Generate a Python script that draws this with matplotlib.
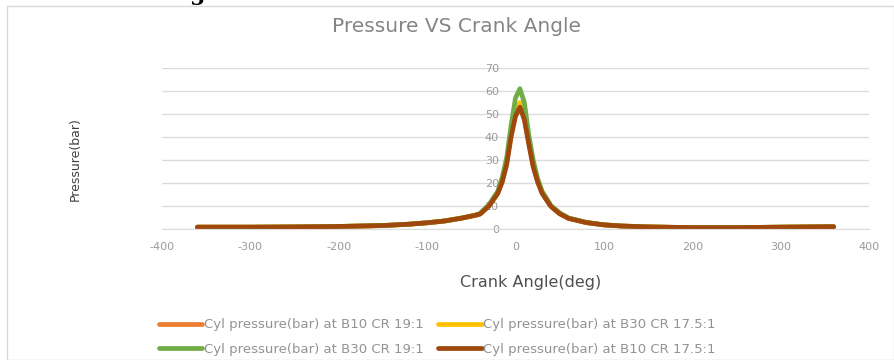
import matplotlib
matplotlib.use('Agg')
import matplotlib.pyplot as plt
from matplotlib.patches import Rectangle

plt.rcParams['font.family'] = ['DejaVu Sans']

# crank angle (deg) and cylinder pressure (bar) for each fuel / compression ratio
crank_angle = [-360, -300, -250, -200, -150, -120, -100, -80, -60, -45, -40, -30,
               -20, -15, -10, -5, 0, 5, 10, 15, 20, 25, 30, 40, 50, 60, 80, 100,
               120, 150, 200, 250, 300, 360]
p_b10_cr19 = [0.8, 0.8, 0.9, 1.1, 1.5, 2.1, 2.7, 3.5, 4.8, 6.0, 6.6, 10.2,
              15.8, 21, 29, 42, 51, 54, 48.5, 38, 28, 21, 16, 10, 6.8, 4.7, 2.8, 1.8,
              1.3, 0.9, 0.6, 0.6, 0.8, 1.0]
p_b30_cr175 = [0.8, 0.8, 0.9, 1.1, 1.5, 2.1, 2.7, 3.5, 4.8, 6.0, 6.6, 10.2,
               15.8, 21, 29, 42, 51.5, 55, 49, 38, 28, 21, 16, 10, 6.8, 4.7, 2.8, 1.8,
               1.3, 0.9, 0.6, 0.6, 0.8, 1.0]
p_b30_cr19 = [0.8, 0.8, 0.9, 1.1, 1.5, 2.1, 2.7, 3.5, 4.8, 6.1, 6.8, 10.6,
              16.5, 22.5, 31, 45, 57, 61, 55, 41, 30, 22, 16.5, 10.2, 7.0, 4.8, 2.9, 1.8,
              1.3, 0.9, 0.6, 0.6, 0.8, 1.0]
p_b10_cr175 = [0.8, 0.8, 0.9, 1.1, 1.5, 2.1, 2.7, 3.5, 4.8, 6.0, 6.5, 10.0,
               15.5, 20.5, 28, 40, 49, 53, 47.5, 37, 27, 20.5, 15.5, 9.8, 6.6, 4.6, 2.8, 1.8,
               1.3, 0.9, 0.6, 0.6, 0.8, 1.0]

series = [
    (p_b10_cr19, 'Cyl pressure(bar) at B10 CR 19:1', '#ED7D31'),
    (p_b30_cr175, 'Cyl pressure(bar) at B30 CR 17.5:1', '#FFC000'),
    (p_b30_cr19, 'Cyl pressure(bar) at B30 CR 19:1', '#70AD47'),
    (p_b10_cr175, 'Cyl pressure(bar) at B10 CR 17.5:1', '#9E480E'),
]

fig = plt.figure(figsize=(8.94, 3.6), dpi=100)
# chart frame
fig.patches.append(Rectangle((7 / 894, 0), 1 - 7 / 894, 1 - 6 / 360,
                             transform=fig.transFigure, fill=False,
                             edgecolor='#d9d9d9', linewidth=1))
fig.text(0.212, 1.018, 'g', fontsize=16, fontweight='bold', color='black',
         ha='left', va='center', family=['DejaVu Serif'])

ax = fig.add_axes([162 / 894, 1 - 229 / 360, 707 / 894, 161 / 360])

lines = []
for y, label, color in series:
    ln, = ax.plot(crank_angle, y, color=color, linewidth=3.4, label=label,
                  solid_capstyle='round', solid_joinstyle='round')
    lines.append(ln)

ax.set_xlim(-400, 400)
ax.set_ylim(0, 70)
ax.set_xticks(range(-400, 401, 100))
ax.set_xticklabels([str(v) for v in range(-400, 401, 100)])
ax.set_yticks(range(0, 71, 10))
ax.grid(axis='y', color='#dcdcdc', linewidth=1)
ax.set_axisbelow(True)
for s in ['top', 'right', 'left']:
    ax.spines[s].set_visible(False)
ax.spines['bottom'].set_color('#dcdcdc')
ax.spines['left'].set_position(('data', 0))
ax.tick_params(axis='both', length=0, labelsize=8, labelcolor='#9a9a9a')
ax.tick_params(axis='x', pad=9)
ax.tick_params(axis='y', pad=12)

fig.text(456 / 894, 1 - 27 / 360, 'Pressure VS Crank Angle', ha='center',
         va='center', fontsize=14.5, color='#858585')
fig.text(531 / 894, 1 - 282 / 360, 'Crank Angle(deg)', ha='center',
         va='center', fontsize=11.5, color='#505050')
fig.text(75 / 894, 1 - 159 / 360, 'Pressure(bar)', ha='center', va='center',
         rotation=90, fontsize=9, color='#404040',
         family=['Liberation Sans Narrow', 'DejaVu Sans'])

# legend fills column by column, so reorder to read row by row
order = [0, 2, 1, 3]
ax.legend([lines[i] for i in order], [series[i][1] for i in order],
          loc='center left', bbox_to_anchor=(147 / 894, 1 - 337 / 360),
          bbox_transform=fig.transFigure, ncol=2, frameon=False,
          fontsize=9.5, labelcolor='#939393', handlelength=3.3,
          handletextpad=0.1, columnspacing=1.1, labelspacing=0.85)

plt.savefig('out.png', dpi=100)
